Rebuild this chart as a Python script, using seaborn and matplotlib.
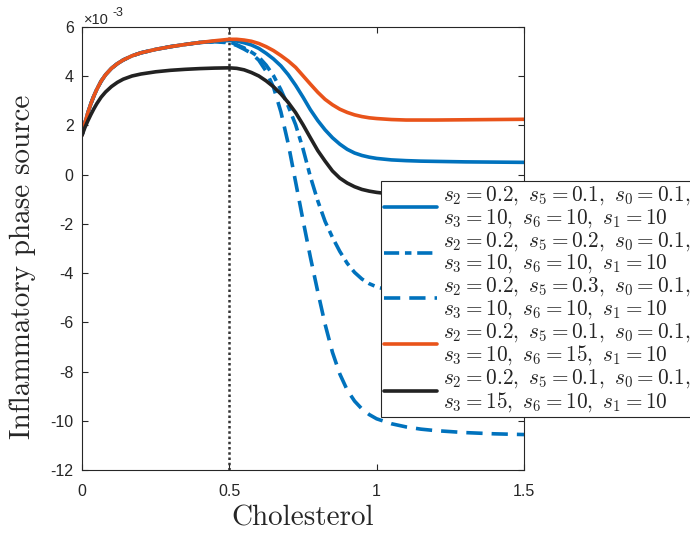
import matplotlib
matplotlib.use("Agg")
import matplotlib.pyplot as plt
import pandas as pd
import seaborn as sns

# Cholesterol grid shared by every simulated case
cholesterol = [0.0, 0.01, 0.02, 0.03, 0.04, 0.05, 0.065, 0.08, 0.1, 0.12, 0.14, 0.17,
               0.2, 0.25, 0.3, 0.35, 0.4, 0.45,
               0.5, 0.525, 0.55, 0.575, 0.6, 0.625, 0.65, 0.675, 0.7, 0.725,
               0.75, 0.775, 0.8, 0.825, 0.85, 0.875, 0.9, 0.925, 0.95, 0.975, 1.0,
               1.05, 1.1, 1.15, 1.2, 1.3, 1.4, 1.5]

# Inflammatory phase source, in units of 1e-3
src_s5_01 = [1.60, 2.10, 2.52, 2.88, 3.19, 3.46, 3.80, 4.06, 4.32, 4.51, 4.66, 4.83,
             4.95, 5.09, 5.20, 5.29, 5.37, 5.42,
             5.45, 5.43, 5.36, 5.27, 5.13, 4.93, 4.70, 4.42, 4.06, 3.63,
             3.15, 2.64, 2.20, 1.82, 1.50, 1.24, 1.03, 0.88, 0.78, 0.71, 0.66,
             0.60, 0.57, 0.55, 0.54, 0.52, 0.51, 0.50]
src_s5_02 = [1.60, 2.10, 2.52, 2.88, 3.19, 3.46, 3.80, 4.06, 4.32, 4.51, 4.66, 4.83,
             4.95, 5.09, 5.20, 5.29, 5.37, 5.41,
             5.40, 5.28, 5.15, 4.98, 4.78, 4.45, 4.02, 3.45, 2.78, 2.03,
             1.05, -0.08, -1.06, -1.90, -2.55, -3.12, -3.60, -3.97, -4.24, -4.43, -4.56,
             -4.72, -4.80, -4.84, -4.87, -4.89, -4.90, -4.90]
src_s5_03 = [1.60, 2.10, 2.52, 2.88, 3.19, 3.46, 3.80, 4.06, 4.32, 4.51, 4.66, 4.83,
             4.95, 5.09, 5.20, 5.29, 5.37, 5.40,
             5.36, 5.25, 5.10, 4.93, 4.65, 4.20, 3.55, 2.55, 1.25, -0.30,
             -1.85, -3.35, -4.75, -6.08, -7.22, -8.10, -8.75, -9.20, -9.52, -9.75, -9.92,
             -10.12, -10.25, -10.34, -10.40, -10.48, -10.53, -10.56]
src_s6_15 = [1.60, 2.10, 2.52, 2.88, 3.19, 3.46, 3.80, 4.06, 4.32, 4.51, 4.66, 4.83,
             4.95, 5.09, 5.20, 5.29, 5.37, 5.44,
             5.50, 5.50, 5.47, 5.42, 5.33, 5.20, 5.04, 4.84, 4.62, 4.36,
             4.02, 3.68, 3.35, 3.06, 2.84, 2.66, 2.53, 2.43, 2.36, 2.31, 2.28,
             2.24, 2.22, 2.22, 2.22, 2.23, 2.24, 2.25]
src_s3_15 = [1.60, 1.92, 2.19, 2.44, 2.67, 2.88, 3.15, 3.36, 3.58, 3.75, 3.88, 4.01,
             4.09, 4.18, 4.24, 4.28, 4.31, 4.33,
             4.34, 4.32, 4.26, 4.15, 4.01, 3.81, 3.57, 3.28, 2.93, 2.52,
             2.03, 1.50, 0.98, 0.55, 0.15, -0.14, -0.34, -0.49, -0.60, -0.67, -0.72,
             -0.79, -0.83, -0.85, -0.86, -0.87, -0.87, -0.87]

case_labels = [
    "$s_2 = 0.2,\\ s_5 = 0.1,\\ s_0 = 0.1,$\n$s_3 = 10,\\ s_6 = 10,\\ s_1 = 10$",
    "$s_2 = 0.2,\\ s_5 = 0.2,\\ s_0 = 0.1,$\n$s_3 = 10,\\ s_6 = 10,\\ s_1 = 10$",
    "$s_2 = 0.2,\\ s_5 = 0.3,\\ s_0 = 0.1,$\n$s_3 = 10,\\ s_6 = 10,\\ s_1 = 10$",
    "$s_2 = 0.2,\\ s_5 = 0.1,\\ s_0 = 0.1,$\n$s_3 = 10,\\ s_6 = 15,\\ s_1 = 10$",
    "$s_2 = 0.2,\\ s_5 = 0.1,\\ s_0 = 0.1,$\n$s_3 = 15,\\ s_6 = 10,\\ s_1 = 10$",
]
case_values = [src_s5_01, src_s5_02, src_s5_03, src_s6_15, src_s3_15]
case_colors = ["#0072BD", "#0072BD", "#0072BD", "#E9531A", "#222222"]
case_dashes = ["", (4.2, 1.6, 1.8, 1.6), (4.5, 2.5), "", ""]

x_ticks = [0, 0.5, 1, 1.5]
x_tick_labels = ["0", "0.5", "1", "1.5"]
y_ticks = [-12, -10, -8, -6, -4, -2, 0, 2, 4, 6]
marker_x = 0.5

frames = []
for label, vals in zip(case_labels, case_values):
    frames.append(pd.DataFrame({"Cholesterol": cholesterol, "source": vals, "case": label}))
df = pd.concat(frames, ignore_index=True)

sns.set_theme(style="ticks")
plt.rcParams["font.family"] = ["Liberation Sans", "DejaVu Sans"]
plt.rcParams["mathtext.fontset"] = "cm"
plt.rcParams["axes.unicode_minus"] = False

W, H = 690, 536
fig = plt.figure(figsize=(W / 100, H / 100), dpi=100)
ax = fig.add_axes([82 / W, 1 - 470 / H, (524 - 82) / W, (470 - 27) / H])

sns.lineplot(data=df, x="Cholesterol", y="source", hue="case", style="case",
             hue_order=case_labels, style_order=case_labels,
             palette=dict(zip(case_labels, case_colors)),
             dashes=dict(zip(case_labels, case_dashes)),
             linewidth=2.6, estimator=None, sort=False, legend=False, ax=ax)
lines = list(ax.lines[:5])
for ln in lines:
    ln.set_solid_joinstyle("round")
    ln.set_dash_joinstyle("round")

ax.axvline(marker_x, color="#333333", linestyle=(0, (1, 1.1)), linewidth=1.8, zorder=1)

ax.set_xlim(0, 1.5)
ax.set_ylim(-12, 6)
ax.set_xticks(x_ticks)
ax.set_xticklabels(x_tick_labels)
ax.set_yticks(y_ticks)
ax.set_yticklabels([str(v) for v in y_ticks])
ax.set_xlabel("")
ax.set_ylabel("")
ax.tick_params(axis="both", direction="in", top=True, right=True, length=4,
               width=0.8, color="#262626", labelsize=11.5, labelcolor="#262626")
ax.tick_params(axis="x", pad=10)
ax.tick_params(axis="y", pad=6)
for sp in ax.spines.values():
    sp.set_visible(True)
    sp.set_linewidth(0.8)
    sp.set_color("#262626")

# Axis multiplier
fig.text(84 / W, 1 - 24 / H, "×10", fontsize=10.5, color="#262626", va="baseline")
fig.text(113 / W, 1 - 16 / H, "-3", fontsize=9, color="#262626", va="baseline")

fig.text(303 / W, 1 - 525 / H, "Cholesterol", family="cmr10", fontsize=21,
         ha="center", va="baseline", color="#262626")
fig.text(23 / W, 1 - 267 / H, "Inflammatory phase source", family="cmr10",
         fontsize=21, rotation=90, ha="center", va="center", color="#262626")

leg = ax.legend(lines, case_labels, loc="upper left",
                bbox_to_anchor=(381 / W, 1 - 181 / H), bbox_transform=fig.transFigure,
                frameon=True, fancybox=False, framealpha=1, edgecolor="#262626",
                fontsize=15.3, handlelength=2.5, handletextpad=0.25, borderpad=0.15,
                labelspacing=0.0, borderaxespad=0)
for t in leg.get_texts():
    t.set_linespacing(1.0)
leg.get_frame().set_linewidth(0.8)

fig.savefig("out.png", dpi=100)
